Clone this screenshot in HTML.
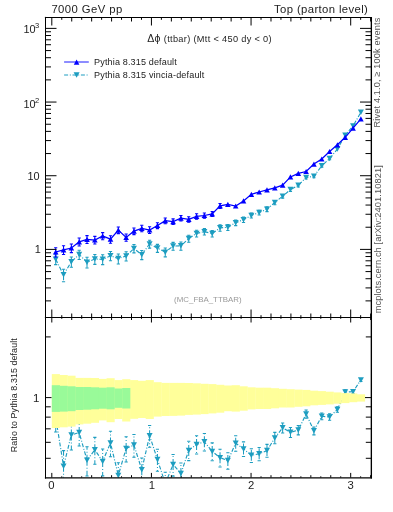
<!DOCTYPE html>
<html><head><meta charset="utf-8"><style>
html,body{margin:0;padding:0;background:#fff;}
body{width:393px;height:512px;position:relative;overflow:hidden;font-family:"Liberation Sans",sans-serif;}
</style></head><body>
<svg width="393" height="512" viewBox="0 0 393 512" style="position:absolute;left:0;top:0">
<defs><clipPath id="cm"><rect x="45.5" y="17.5" width="325.5" height="300"/></clipPath>
<clipPath id="cr"><rect x="45.5" y="317.5" width="325.5" height="160"/></clipPath></defs>
<g clip-path="url(#cm)">
<polyline points="55.71,259.31 63.54,274.87 71.36,261.63 79.19,254.59 87.01,262.18 94.84,259.08 102.66,259.31 110.49,255.79 118.31,258.53 126.14,255.96 133.96,248.46 141.79,254.68 149.61,243.92 157.44,248.12 165.26,252.13 173.09,246.08 180.91,245.84 188.74,238.59 196.56,233.50 204.39,231.65 212.21,233.56 220.04,227.86 227.86,227.32 235.69,222.66 243.51,219.65 251.34,215.39 259.16,212.54 266.99,209.17 274.81,202.53 282.64,196.24 290.46,189.58 298.29,185.28 306.11,177.49 313.93,176.23 321.76,165.83 329.58,158.59 337.41,149.11 345.23,135.22 353.06,125.94 360.88,112.33" fill="none" stroke="#1d9dc0" stroke-width="1.15" stroke-dasharray="4 1.7 1 1.7"/>
<path d="M55.71 259.31V254.77M55.71 259.31V264.60" stroke="#1d9dc0" stroke-width="1.05" fill="none" stroke-dasharray="5.5 2 1 2"/><path d="M54.11 254.77H57.31M54.11 264.60H57.31" stroke="#1d9dc0" stroke-width="1.05" fill="none"/>
<path d="M52.71 256.56L58.71 256.56L55.71 262.06Z" fill="#1d9dc0"/>
<path d="M63.54 274.87V269.17M63.54 274.87V281.80" stroke="#1d9dc0" stroke-width="1.05" fill="none" stroke-dasharray="5.5 2 1 2"/><path d="M61.94 269.17H65.14M61.94 281.80H65.14" stroke="#1d9dc0" stroke-width="1.05" fill="none"/>
<path d="M60.54 272.12L66.54 272.12L63.54 277.62Z" fill="#1d9dc0"/>
<path d="M71.36 261.63V256.92M71.36 261.63V267.15" stroke="#1d9dc0" stroke-width="1.05" fill="none" stroke-dasharray="5.5 2 1 2"/><path d="M69.76 256.92H72.96M69.76 267.15H72.96" stroke="#1d9dc0" stroke-width="1.05" fill="none"/>
<path d="M68.36 258.88L74.36 258.88L71.36 264.38Z" fill="#1d9dc0"/>
<path d="M79.19 254.59V250.33M79.19 254.59V259.51" stroke="#1d9dc0" stroke-width="1.05" fill="none" stroke-dasharray="5.5 2 1 2"/><path d="M77.59 250.33H80.79M77.59 259.51H80.79" stroke="#1d9dc0" stroke-width="1.05" fill="none"/>
<path d="M76.19 251.84L82.19 251.84L79.19 257.34Z" fill="#1d9dc0"/>
<path d="M87.01 262.18V257.29M87.01 262.18V267.94" stroke="#1d9dc0" stroke-width="1.05" fill="none" stroke-dasharray="5.5 2 1 2"/><path d="M85.41 257.29H88.61M85.41 267.94H88.61" stroke="#1d9dc0" stroke-width="1.05" fill="none"/>
<path d="M84.01 259.43L90.01 259.43L87.01 264.93Z" fill="#1d9dc0"/>
<path d="M94.84 259.08V254.53M94.84 259.08V264.38" stroke="#1d9dc0" stroke-width="1.05" fill="none" stroke-dasharray="5.5 2 1 2"/><path d="M93.24 254.53H96.44M93.24 264.38H96.44" stroke="#1d9dc0" stroke-width="1.05" fill="none"/>
<path d="M91.84 256.33L97.84 256.33L94.84 261.83Z" fill="#1d9dc0"/>
<path d="M102.66 259.31V254.78M102.66 259.31V264.60" stroke="#1d9dc0" stroke-width="1.05" fill="none" stroke-dasharray="5.5 2 1 2"/><path d="M101.06 254.78H104.26M101.06 264.60H104.26" stroke="#1d9dc0" stroke-width="1.05" fill="none"/>
<path d="M99.66 256.56L105.66 256.56L102.66 262.06Z" fill="#1d9dc0"/>
<path d="M110.49 255.79V251.47M110.49 255.79V260.78" stroke="#1d9dc0" stroke-width="1.05" fill="none" stroke-dasharray="5.5 2 1 2"/><path d="M108.89 251.47H112.09M108.89 260.78H112.09" stroke="#1d9dc0" stroke-width="1.05" fill="none"/>
<path d="M107.49 253.04L113.49 253.04L110.49 258.54Z" fill="#1d9dc0"/>
<path d="M118.31 258.53V253.93M118.31 258.53V263.90" stroke="#1d9dc0" stroke-width="1.05" fill="none" stroke-dasharray="5.5 2 1 2"/><path d="M116.71 253.93H119.91M116.71 263.90H119.91" stroke="#1d9dc0" stroke-width="1.05" fill="none"/>
<path d="M115.31 255.78L121.31 255.78L118.31 261.28Z" fill="#1d9dc0"/>
<path d="M126.14 255.96V251.69M126.14 255.96V260.90" stroke="#1d9dc0" stroke-width="1.05" fill="none" stroke-dasharray="5.5 2 1 2"/><path d="M124.54 251.69H127.74M124.54 260.90H127.74" stroke="#1d9dc0" stroke-width="1.05" fill="none"/>
<path d="M123.14 253.21L129.14 253.21L126.14 258.71Z" fill="#1d9dc0"/>
<path d="M133.96 248.46V244.56M133.96 248.46V252.89" stroke="#1d9dc0" stroke-width="1.05" fill="none" stroke-dasharray="5.5 2 1 2"/><path d="M132.36 244.56H135.56M132.36 252.89H135.56" stroke="#1d9dc0" stroke-width="1.05" fill="none"/>
<path d="M130.96 245.71L136.96 245.71L133.96 251.21Z" fill="#1d9dc0"/>
<path d="M141.79 254.68V250.40M141.79 254.68V259.63" stroke="#1d9dc0" stroke-width="1.05" fill="none" stroke-dasharray="5.5 2 1 2"/><path d="M140.19 250.40H143.39M140.19 259.63H143.39" stroke="#1d9dc0" stroke-width="1.05" fill="none"/>
<path d="M138.79 251.93L144.79 251.93L141.79 257.43Z" fill="#1d9dc0"/>
<path d="M149.61 243.92V240.21M149.61 243.92V248.13" stroke="#1d9dc0" stroke-width="1.05" fill="none" stroke-dasharray="5.5 2 1 2"/><path d="M148.01 240.21H151.21M148.01 248.13H151.21" stroke="#1d9dc0" stroke-width="1.05" fill="none"/>
<path d="M146.61 241.17L152.61 241.17L149.61 246.67Z" fill="#1d9dc0"/>
<path d="M157.44 248.12V244.36M157.44 248.12V252.38" stroke="#1d9dc0" stroke-width="1.05" fill="none" stroke-dasharray="5.5 2 1 2"/><path d="M155.84 244.36H159.04M155.84 252.38H159.04" stroke="#1d9dc0" stroke-width="1.05" fill="none"/>
<path d="M154.44 245.37L160.44 245.37L157.44 250.87Z" fill="#1d9dc0"/>
<path d="M165.26 252.13V248.00M165.26 252.13V256.86" stroke="#1d9dc0" stroke-width="1.05" fill="none" stroke-dasharray="5.5 2 1 2"/><path d="M163.66 248.00H166.86M163.66 256.86H166.86" stroke="#1d9dc0" stroke-width="1.05" fill="none"/>
<path d="M162.26 249.38L168.26 249.38L165.26 254.88Z" fill="#1d9dc0"/>
<path d="M173.09 246.08V242.37M173.09 246.08V250.29" stroke="#1d9dc0" stroke-width="1.05" fill="none" stroke-dasharray="5.5 2 1 2"/><path d="M171.49 242.37H174.69M171.49 250.29H174.69" stroke="#1d9dc0" stroke-width="1.05" fill="none"/>
<path d="M170.09 243.33L176.09 243.33L173.09 248.83Z" fill="#1d9dc0"/>
<path d="M180.91 245.84V241.96M180.91 245.84V250.24" stroke="#1d9dc0" stroke-width="1.05" fill="none" stroke-dasharray="5.5 2 1 2"/><path d="M179.31 241.96H182.51M179.31 250.24H182.51" stroke="#1d9dc0" stroke-width="1.05" fill="none"/>
<path d="M177.91 243.09L183.91 243.09L180.91 248.59Z" fill="#1d9dc0"/>
<path d="M188.74 238.59V235.25M188.74 238.59V242.33" stroke="#1d9dc0" stroke-width="1.05" fill="none" stroke-dasharray="5.5 2 1 2"/><path d="M187.14 235.25H190.34M187.14 242.33H190.34" stroke="#1d9dc0" stroke-width="1.05" fill="none"/>
<path d="M185.74 235.84L191.74 235.84L188.74 241.34Z" fill="#1d9dc0"/>
<path d="M196.56 233.50V230.32M196.56 233.50V237.04" stroke="#1d9dc0" stroke-width="1.05" fill="none" stroke-dasharray="5.5 2 1 2"/><path d="M194.96 230.32H198.16M194.96 237.04H198.16" stroke="#1d9dc0" stroke-width="1.05" fill="none"/>
<path d="M193.56 230.75L199.56 230.75L196.56 236.25Z" fill="#1d9dc0"/>
<path d="M204.39 231.65V228.61M204.39 231.65V235.01" stroke="#1d9dc0" stroke-width="1.05" fill="none" stroke-dasharray="5.5 2 1 2"/><path d="M202.79 228.61H205.99M202.79 235.01H205.99" stroke="#1d9dc0" stroke-width="1.05" fill="none"/>
<path d="M201.39 228.90L207.39 228.90L204.39 234.40Z" fill="#1d9dc0"/>
<path d="M212.21 233.56V230.45M212.21 233.56V237.00" stroke="#1d9dc0" stroke-width="1.05" fill="none" stroke-dasharray="5.5 2 1 2"/><path d="M210.61 230.45H213.81M210.61 237.00H213.81" stroke="#1d9dc0" stroke-width="1.05" fill="none"/>
<path d="M209.21 230.81L215.21 230.81L212.21 236.31Z" fill="#1d9dc0"/>
<path d="M220.04 227.86V224.79M220.04 227.86V231.26" stroke="#1d9dc0" stroke-width="1.05" fill="none" stroke-dasharray="5.5 2 1 2"/><path d="M218.44 224.79H221.64M218.44 231.26H221.64" stroke="#1d9dc0" stroke-width="1.05" fill="none"/>
<path d="M217.04 225.11L223.04 225.11L220.04 230.61Z" fill="#1d9dc0"/>
<path d="M227.86 227.32V224.43M227.86 227.32V230.50" stroke="#1d9dc0" stroke-width="1.05" fill="none" stroke-dasharray="5.5 2 1 2"/><path d="M226.26 224.43H229.46M226.26 230.50H229.46" stroke="#1d9dc0" stroke-width="1.05" fill="none"/>
<path d="M224.86 224.57L230.86 224.57L227.86 230.07Z" fill="#1d9dc0"/>
<path d="M235.69 222.66V219.96M235.69 222.66V225.61" stroke="#1d9dc0" stroke-width="1.05" fill="none" stroke-dasharray="5.5 2 1 2"/><path d="M234.09 219.96H237.29M234.09 225.61H237.29" stroke="#1d9dc0" stroke-width="1.05" fill="none"/>
<path d="M232.69 219.91L238.69 219.91L235.69 225.41Z" fill="#1d9dc0"/>
<path d="M243.51 219.65V217.07M243.51 219.65V222.45" stroke="#1d9dc0" stroke-width="1.05" fill="none" stroke-dasharray="5.5 2 1 2"/><path d="M241.91 217.07H245.11M241.91 222.45H245.11" stroke="#1d9dc0" stroke-width="1.05" fill="none"/>
<path d="M240.51 216.90L246.51 216.90L243.51 222.40Z" fill="#1d9dc0"/>
<path d="M251.34 215.39V212.96M251.34 215.39V218.01" stroke="#1d9dc0" stroke-width="1.05" fill="none" stroke-dasharray="5.5 2 1 2"/><path d="M249.74 212.96H252.94M249.74 218.01H252.94" stroke="#1d9dc0" stroke-width="1.05" fill="none"/>
<path d="M248.34 212.64L254.34 212.64L251.34 218.14Z" fill="#1d9dc0"/>
<path d="M259.16 212.54V210.21M259.16 212.54V215.04" stroke="#1d9dc0" stroke-width="1.05" fill="none" stroke-dasharray="5.5 2 1 2"/><path d="M257.56 210.21H260.76M257.56 215.04H260.76" stroke="#1d9dc0" stroke-width="1.05" fill="none"/>
<path d="M256.16 209.79L262.16 209.79L259.16 215.29Z" fill="#1d9dc0"/>
<path d="M266.99 209.17V206.88M266.99 209.17V211.63" stroke="#1d9dc0" stroke-width="1.05" fill="none" stroke-dasharray="5.5 2 1 2"/><path d="M265.39 206.88H268.59M265.39 211.63H268.59" stroke="#1d9dc0" stroke-width="1.05" fill="none"/>
<path d="M263.99 206.42L269.99 206.42L266.99 211.92Z" fill="#1d9dc0"/>
<path d="M274.81 202.53V200.51M274.81 202.53V204.68" stroke="#1d9dc0" stroke-width="1.05" fill="none" stroke-dasharray="5.5 2 1 2"/><path d="M273.21 200.51H276.41M273.21 204.68H276.41" stroke="#1d9dc0" stroke-width="1.05" fill="none"/>
<path d="M271.81 199.78L277.81 199.78L274.81 205.28Z" fill="#1d9dc0"/>
<path d="M282.64 196.24V194.46M282.64 196.24V198.12" stroke="#1d9dc0" stroke-width="1.05" fill="none" stroke-dasharray="5.5 2 1 2"/><path d="M281.04 194.46H284.24M281.04 198.12H284.24" stroke="#1d9dc0" stroke-width="1.05" fill="none"/>
<path d="M279.64 193.49L285.64 193.49L282.64 198.99Z" fill="#1d9dc0"/>
<path d="M290.46 189.58V187.80M290.46 189.58V191.47" stroke="#1d9dc0" stroke-width="1.05" fill="none" stroke-dasharray="5.5 2 1 2"/><path d="M288.86 187.80H292.06M288.86 191.47H292.06" stroke="#1d9dc0" stroke-width="1.05" fill="none"/>
<path d="M287.46 186.83L293.46 186.83L290.46 192.33Z" fill="#1d9dc0"/>
<path d="M298.29 185.28V183.62M298.29 185.28V187.03" stroke="#1d9dc0" stroke-width="1.05" fill="none" stroke-dasharray="5.5 2 1 2"/><path d="M296.69 183.62H299.89M296.69 187.03H299.89" stroke="#1d9dc0" stroke-width="1.05" fill="none"/>
<path d="M295.29 182.53L301.29 182.53L298.29 188.03Z" fill="#1d9dc0"/>
<path d="M306.11 177.49V176.04M306.11 177.49V179.01" stroke="#1d9dc0" stroke-width="1.05" fill="none" stroke-dasharray="5.5 2 1 2"/><path d="M304.51 176.04H307.71M304.51 179.01H307.71" stroke="#1d9dc0" stroke-width="1.05" fill="none"/>
<path d="M303.11 174.74L309.11 174.74L306.11 180.24Z" fill="#1d9dc0"/>
<path d="M313.93 176.23V174.81M313.93 176.23V177.72" stroke="#1d9dc0" stroke-width="1.05" fill="none" stroke-dasharray="5.5 2 1 2"/><path d="M312.33 174.81H315.53M312.33 177.72H315.53" stroke="#1d9dc0" stroke-width="1.05" fill="none"/>
<path d="M310.93 173.48L316.93 173.48L313.93 178.98Z" fill="#1d9dc0"/>
<path d="M321.76 165.83V164.59M321.76 165.83V167.12" stroke="#1d9dc0" stroke-width="1.05" fill="none" stroke-dasharray="5.5 2 1 2"/><path d="M320.16 164.59H323.36M320.16 167.12H323.36" stroke="#1d9dc0" stroke-width="1.05" fill="none"/>
<path d="M318.76 163.08L324.76 163.08L321.76 168.58Z" fill="#1d9dc0"/>
<path d="M329.58 158.59V157.44M329.58 158.59V159.78" stroke="#1d9dc0" stroke-width="1.05" fill="none" stroke-dasharray="5.5 2 1 2"/><path d="M327.98 157.44H331.18M327.98 159.78H331.18" stroke="#1d9dc0" stroke-width="1.05" fill="none"/>
<path d="M326.58 155.84L332.58 155.84L329.58 161.34Z" fill="#1d9dc0"/>
<path d="M334.41 146.36L340.41 146.36L337.41 151.86Z" fill="#1d9dc0"/>
<path d="M342.23 132.47L348.23 132.47L345.23 137.97Z" fill="#1d9dc0"/>
<path d="M350.06 123.19L356.06 123.19L353.06 128.69Z" fill="#1d9dc0"/>
<path d="M357.88 109.58L363.88 109.58L360.88 115.08Z" fill="#1d9dc0"/>
<polyline points="55.71,252.00 63.54,249.80 71.36,248.00 79.19,241.80 87.01,239.30 94.84,240.00 102.66,236.00 110.49,239.20 118.31,230.10 126.14,237.40 133.96,231.10 141.79,228.30 149.61,230.00 157.44,225.50 165.26,220.70 173.09,221.60 180.91,218.10 188.74,219.30 196.56,216.40 204.39,215.50 212.21,213.90 220.04,205.90 227.86,204.30 235.69,206.00 243.51,200.90 251.34,194.30 259.16,192.00 266.99,189.80 274.81,187.80 282.64,185.20 290.46,176.90 298.29,173.40 306.11,171.50 313.93,164.10 321.76,159.00 329.58,151.50 337.41,144.80 345.23,137.30 353.06,128.10 360.88,118.80" fill="none" stroke="#0000ff" stroke-width="1.25"/>
<path d="M55.71 252.00V247.72M55.71 252.00V256.94" stroke="#0000ff" stroke-width="1.05" fill="none"/><path d="M54.11 247.72H57.31M54.11 256.94H57.31" stroke="#0000ff" stroke-width="1.05" fill="none"/>
<path d="M52.91 254.60L58.51 254.60L55.71 249.40Z" fill="#0000ff"/>
<path d="M63.54 249.80V245.65M63.54 249.80V254.57" stroke="#0000ff" stroke-width="1.05" fill="none"/><path d="M61.94 245.65H65.14M61.94 254.57H65.14" stroke="#0000ff" stroke-width="1.05" fill="none"/>
<path d="M60.74 252.40L66.34 252.40L63.54 247.20Z" fill="#0000ff"/>
<path d="M71.36 248.00V243.95M71.36 248.00V252.63" stroke="#0000ff" stroke-width="1.05" fill="none"/><path d="M69.76 243.95H72.96M69.76 252.63H72.96" stroke="#0000ff" stroke-width="1.05" fill="none"/>
<path d="M68.56 250.60L74.16 250.60L71.36 245.40Z" fill="#0000ff"/>
<path d="M79.19 241.80V238.09M79.19 241.80V245.99" stroke="#0000ff" stroke-width="1.05" fill="none"/><path d="M77.59 238.09H80.79M77.59 245.99H80.79" stroke="#0000ff" stroke-width="1.05" fill="none"/>
<path d="M76.39 244.40L81.99 244.40L79.19 239.20Z" fill="#0000ff"/>
<path d="M87.01 239.30V235.63M87.01 239.30V243.44" stroke="#0000ff" stroke-width="1.05" fill="none"/><path d="M85.41 235.63H88.61M85.41 243.44H88.61" stroke="#0000ff" stroke-width="1.05" fill="none"/>
<path d="M84.21 241.90L89.81 241.90L87.01 236.70Z" fill="#0000ff"/>
<path d="M94.84 240.00V236.39M94.84 240.00V244.06" stroke="#0000ff" stroke-width="1.05" fill="none"/><path d="M93.24 236.39H96.44M93.24 244.06H96.44" stroke="#0000ff" stroke-width="1.05" fill="none"/>
<path d="M92.04 242.60L97.64 242.60L94.84 237.40Z" fill="#0000ff"/>
<path d="M102.66 236.00V232.62M102.66 236.00V239.77" stroke="#0000ff" stroke-width="1.05" fill="none"/><path d="M101.06 232.62H104.26M101.06 239.77H104.26" stroke="#0000ff" stroke-width="1.05" fill="none"/>
<path d="M99.86 238.60L105.46 238.60L102.66 233.40Z" fill="#0000ff"/>
<path d="M110.49 239.20V235.65M110.49 239.20V243.19" stroke="#0000ff" stroke-width="1.05" fill="none"/><path d="M108.89 235.65H112.09M108.89 243.19H112.09" stroke="#0000ff" stroke-width="1.05" fill="none"/>
<path d="M107.69 241.80L113.29 241.80L110.49 236.60Z" fill="#0000ff"/>
<path d="M118.31 230.10V226.93M118.31 230.10V233.62" stroke="#0000ff" stroke-width="1.05" fill="none"/><path d="M116.71 226.93H119.91M116.71 233.62H119.91" stroke="#0000ff" stroke-width="1.05" fill="none"/>
<path d="M115.51 232.70L121.11 232.70L118.31 227.50Z" fill="#0000ff"/>
<path d="M126.14 237.40V233.99M126.14 237.40V241.22" stroke="#0000ff" stroke-width="1.05" fill="none"/><path d="M124.54 233.99H127.74M124.54 241.22H127.74" stroke="#0000ff" stroke-width="1.05" fill="none"/>
<path d="M123.34 240.00L128.94 240.00L126.14 234.80Z" fill="#0000ff"/>
<path d="M133.96 231.10V227.94M133.96 231.10V234.61" stroke="#0000ff" stroke-width="1.05" fill="none"/><path d="M132.36 227.94H135.56M132.36 234.61H135.56" stroke="#0000ff" stroke-width="1.05" fill="none"/>
<path d="M131.16 233.70L136.76 233.70L133.96 228.50Z" fill="#0000ff"/>
<path d="M141.79 228.30V225.25M141.79 228.30V231.67" stroke="#0000ff" stroke-width="1.05" fill="none"/><path d="M140.19 225.25H143.39M140.19 231.67H143.39" stroke="#0000ff" stroke-width="1.05" fill="none"/>
<path d="M138.99 230.90L144.59 230.90L141.79 225.70Z" fill="#0000ff"/>
<path d="M149.61 230.00V226.83M149.61 230.00V233.52" stroke="#0000ff" stroke-width="1.05" fill="none"/><path d="M148.01 226.83H151.21M148.01 233.52H151.21" stroke="#0000ff" stroke-width="1.05" fill="none"/>
<path d="M146.81 232.60L152.41 232.60L149.61 227.40Z" fill="#0000ff"/>
<path d="M157.44 225.50V222.68M157.44 225.50V228.60" stroke="#0000ff" stroke-width="1.05" fill="none"/><path d="M155.84 222.68H159.04M155.84 228.60H159.04" stroke="#0000ff" stroke-width="1.05" fill="none"/>
<path d="M154.64 228.10L160.24 228.10L157.44 222.90Z" fill="#0000ff"/>
<path d="M165.26 220.70V217.98M165.26 220.70V223.67" stroke="#0000ff" stroke-width="1.05" fill="none"/><path d="M163.66 217.98H166.86M163.66 223.67H166.86" stroke="#0000ff" stroke-width="1.05" fill="none"/>
<path d="M162.46 223.30L168.06 223.30L165.26 218.10Z" fill="#0000ff"/>
<path d="M173.09 221.60V218.89M173.09 221.60V224.56" stroke="#0000ff" stroke-width="1.05" fill="none"/><path d="M171.49 218.89H174.69M171.49 224.56H174.69" stroke="#0000ff" stroke-width="1.05" fill="none"/>
<path d="M170.29 224.20L175.89 224.20L173.09 219.00Z" fill="#0000ff"/>
<path d="M180.91 218.10V215.41M180.91 218.10V221.04" stroke="#0000ff" stroke-width="1.05" fill="none"/><path d="M179.31 215.41H182.51M179.31 221.04H182.51" stroke="#0000ff" stroke-width="1.05" fill="none"/>
<path d="M178.11 220.70L183.71 220.70L180.91 215.50Z" fill="#0000ff"/>
<path d="M188.74 219.30V216.66M188.74 219.30V222.17" stroke="#0000ff" stroke-width="1.05" fill="none"/><path d="M187.14 216.66H190.34M187.14 222.17H190.34" stroke="#0000ff" stroke-width="1.05" fill="none"/>
<path d="M185.94 221.90L191.54 221.90L188.74 216.70Z" fill="#0000ff"/>
<path d="M196.56 216.40V213.81M196.56 216.40V219.22" stroke="#0000ff" stroke-width="1.05" fill="none"/><path d="M194.96 213.81H198.16M194.96 219.22H198.16" stroke="#0000ff" stroke-width="1.05" fill="none"/>
<path d="M193.76 219.00L199.36 219.00L196.56 213.80Z" fill="#0000ff"/>
<path d="M204.39 215.50V212.99M204.39 215.50V218.22" stroke="#0000ff" stroke-width="1.05" fill="none"/><path d="M202.79 212.99H205.99M202.79 218.22H205.99" stroke="#0000ff" stroke-width="1.05" fill="none"/>
<path d="M201.59 218.10L207.19 218.10L204.39 212.90Z" fill="#0000ff"/>
<path d="M212.21 213.90V211.47M212.21 213.90V216.53" stroke="#0000ff" stroke-width="1.05" fill="none"/><path d="M210.61 211.47H213.81M210.61 216.53H213.81" stroke="#0000ff" stroke-width="1.05" fill="none"/>
<path d="M209.41 216.50L215.01 216.50L212.21 211.30Z" fill="#0000ff"/>
<path d="M220.04 205.90V203.58M220.04 205.90V208.40" stroke="#0000ff" stroke-width="1.05" fill="none"/><path d="M218.44 203.58H221.64M218.44 208.40H221.64" stroke="#0000ff" stroke-width="1.05" fill="none"/>
<path d="M217.24 208.50L222.84 208.50L220.04 203.30Z" fill="#0000ff"/>
<path d="M225.06 206.90L230.66 206.90L227.86 201.70Z" fill="#0000ff"/>
<path d="M232.89 208.60L238.49 208.60L235.69 203.40Z" fill="#0000ff"/>
<path d="M240.71 203.50L246.31 203.50L243.51 198.30Z" fill="#0000ff"/>
<path d="M248.54 196.90L254.14 196.90L251.34 191.70Z" fill="#0000ff"/>
<path d="M256.36 194.60L261.96 194.60L259.16 189.40Z" fill="#0000ff"/>
<path d="M264.19 192.40L269.79 192.40L266.99 187.20Z" fill="#0000ff"/>
<path d="M272.01 190.40L277.61 190.40L274.81 185.20Z" fill="#0000ff"/>
<path d="M279.84 187.80L285.44 187.80L282.64 182.60Z" fill="#0000ff"/>
<path d="M287.66 179.50L293.26 179.50L290.46 174.30Z" fill="#0000ff"/>
<path d="M295.49 176.00L301.09 176.00L298.29 170.80Z" fill="#0000ff"/>
<path d="M303.31 174.10L308.91 174.10L306.11 168.90Z" fill="#0000ff"/>
<path d="M311.13 166.70L316.73 166.70L313.93 161.50Z" fill="#0000ff"/>
<path d="M318.96 161.60L324.56 161.60L321.76 156.40Z" fill="#0000ff"/>
<path d="M326.78 154.10L332.38 154.10L329.58 148.90Z" fill="#0000ff"/>
<path d="M334.61 147.40L340.21 147.40L337.41 142.20Z" fill="#0000ff"/>
<path d="M342.43 139.90L348.03 139.90L345.23 134.70Z" fill="#0000ff"/>
<path d="M350.26 130.70L355.86 130.70L353.06 125.50Z" fill="#0000ff"/>
<path d="M358.08 121.40L363.68 121.40L360.88 116.20Z" fill="#0000ff"/>
</g>
<g clip-path="url(#cr)">
<polyline points="55.71,417.60 63.54,466.20 71.36,434.90 79.19,432.60 87.01,460.20 94.84,449.80 102.66,461.40 110.49,443.00 118.31,475.40 126.14,448.40 133.96,445.10 141.79,469.80 149.61,435.70 157.44,459.50 165.26,483.60 173.09,464.60 180.91,473.50 188.74,450.40 196.56,444.40 204.39,441.80 212.21,451.40 220.04,457.70 227.86,460.60 235.69,443.20 243.51,448.90 251.34,455.30 259.16,453.80 266.99,450.60 274.81,437.90 282.64,427.80 290.46,432.30 298.29,430.10 306.11,414.00 313.93,430.80 321.76,416.30 329.58,417.00 337.41,409.40 345.23,391.90 353.06,391.70 360.88,379.90" fill="none" stroke="#1d9dc0" stroke-width="1.15" stroke-dasharray="4 1.7 1 1.7"/>
<path d="M55.71 417.60V405.18M55.71 417.60V432.08" stroke="#1d9dc0" stroke-width="1.05" fill="none" stroke-dasharray="5.5 2 1 2"/><path d="M54.11 405.18H57.31M54.11 432.08H57.31" stroke="#1d9dc0" stroke-width="1.05" fill="none"/>
<path d="M52.71 414.85L58.71 414.85L55.71 420.35Z" fill="#1d9dc0"/>
<path d="M63.54 466.20V450.61M63.54 466.20V485.17" stroke="#1d9dc0" stroke-width="1.05" fill="none" stroke-dasharray="5.5 2 1 2"/><path d="M61.94 450.61H65.14M61.94 485.17H65.14" stroke="#1d9dc0" stroke-width="1.05" fill="none"/>
<path d="M60.54 463.45L66.54 463.45L63.54 468.95Z" fill="#1d9dc0"/>
<path d="M71.36 434.90V422.02M71.36 434.90V450.00" stroke="#1d9dc0" stroke-width="1.05" fill="none" stroke-dasharray="5.5 2 1 2"/><path d="M69.76 422.02H72.96M69.76 450.00H72.96" stroke="#1d9dc0" stroke-width="1.05" fill="none"/>
<path d="M68.36 432.15L74.36 432.15L71.36 437.65Z" fill="#1d9dc0"/>
<path d="M79.19 432.60V420.93M79.19 432.60V446.06" stroke="#1d9dc0" stroke-width="1.05" fill="none" stroke-dasharray="5.5 2 1 2"/><path d="M77.59 420.93H80.79M77.59 446.06H80.79" stroke="#1d9dc0" stroke-width="1.05" fill="none"/>
<path d="M76.19 429.85L82.19 429.85L79.19 435.35Z" fill="#1d9dc0"/>
<path d="M87.01 460.20V446.83M87.01 460.20V475.98" stroke="#1d9dc0" stroke-width="1.05" fill="none" stroke-dasharray="5.5 2 1 2"/><path d="M85.41 446.83H88.61M85.41 475.98H88.61" stroke="#1d9dc0" stroke-width="1.05" fill="none"/>
<path d="M84.01 457.45L90.01 457.45L87.01 462.95Z" fill="#1d9dc0"/>
<path d="M94.84 449.80V437.36M94.84 449.80V464.31" stroke="#1d9dc0" stroke-width="1.05" fill="none" stroke-dasharray="5.5 2 1 2"/><path d="M93.24 437.36H96.44M93.24 464.31H96.44" stroke="#1d9dc0" stroke-width="1.05" fill="none"/>
<path d="M91.84 447.05L97.84 447.05L94.84 452.55Z" fill="#1d9dc0"/>
<path d="M102.66 461.40V449.00M102.66 461.40V475.85" stroke="#1d9dc0" stroke-width="1.05" fill="none" stroke-dasharray="5.5 2 1 2"/><path d="M101.06 449.00H104.26M101.06 475.85H104.26" stroke="#1d9dc0" stroke-width="1.05" fill="none"/>
<path d="M99.66 458.65L105.66 458.65L102.66 464.15Z" fill="#1d9dc0"/>
<path d="M110.49 443.00V431.18M110.49 443.00V456.67" stroke="#1d9dc0" stroke-width="1.05" fill="none" stroke-dasharray="5.5 2 1 2"/><path d="M108.89 431.18H112.09M108.89 456.67H112.09" stroke="#1d9dc0" stroke-width="1.05" fill="none"/>
<path d="M107.49 440.25L113.49 440.25L110.49 445.75Z" fill="#1d9dc0"/>
<path d="M118.31 475.40V462.82M118.31 475.40V490.10" stroke="#1d9dc0" stroke-width="1.05" fill="none" stroke-dasharray="5.5 2 1 2"/><path d="M116.71 462.82H119.91M116.71 490.10H119.91" stroke="#1d9dc0" stroke-width="1.05" fill="none"/>
<path d="M115.31 472.65L121.31 472.65L118.31 478.15Z" fill="#1d9dc0"/>
<path d="M126.14 448.40V436.70M126.14 448.40V461.90" stroke="#1d9dc0" stroke-width="1.05" fill="none" stroke-dasharray="5.5 2 1 2"/><path d="M124.54 436.70H127.74M124.54 461.90H127.74" stroke="#1d9dc0" stroke-width="1.05" fill="none"/>
<path d="M123.14 445.65L129.14 445.65L126.14 451.15Z" fill="#1d9dc0"/>
<path d="M133.96 445.10V434.44M133.96 445.10V457.24" stroke="#1d9dc0" stroke-width="1.05" fill="none" stroke-dasharray="5.5 2 1 2"/><path d="M132.36 434.44H135.56M132.36 457.24H135.56" stroke="#1d9dc0" stroke-width="1.05" fill="none"/>
<path d="M130.96 442.35L136.96 442.35L133.96 447.85Z" fill="#1d9dc0"/>
<path d="M141.79 469.80V458.08M141.79 469.80V483.34" stroke="#1d9dc0" stroke-width="1.05" fill="none" stroke-dasharray="5.5 2 1 2"/><path d="M140.19 458.08H143.39M140.19 483.34H143.39" stroke="#1d9dc0" stroke-width="1.05" fill="none"/>
<path d="M138.79 467.05L144.79 467.05L141.79 472.55Z" fill="#1d9dc0"/>
<path d="M149.61 435.70V425.53M149.61 435.70V447.21" stroke="#1d9dc0" stroke-width="1.05" fill="none" stroke-dasharray="5.5 2 1 2"/><path d="M148.01 425.53H151.21M148.01 447.21H151.21" stroke="#1d9dc0" stroke-width="1.05" fill="none"/>
<path d="M146.61 432.95L152.61 432.95L149.61 438.45Z" fill="#1d9dc0"/>
<path d="M157.44 459.50V449.20M157.44 459.50V471.17" stroke="#1d9dc0" stroke-width="1.05" fill="none" stroke-dasharray="5.5 2 1 2"/><path d="M155.84 449.20H159.04M155.84 471.17H159.04" stroke="#1d9dc0" stroke-width="1.05" fill="none"/>
<path d="M154.44 456.75L160.44 456.75L157.44 462.25Z" fill="#1d9dc0"/>
<path d="M165.26 483.60V472.31M165.26 483.60V496.56" stroke="#1d9dc0" stroke-width="1.05" fill="none" stroke-dasharray="5.5 2 1 2"/><path d="M163.66 472.31H166.86M163.66 496.56H166.86" stroke="#1d9dc0" stroke-width="1.05" fill="none"/>
<path d="M162.26 480.85L168.26 480.85L165.26 486.35Z" fill="#1d9dc0"/>
<path d="M173.09 464.60V454.43M173.09 464.60V476.11" stroke="#1d9dc0" stroke-width="1.05" fill="none" stroke-dasharray="5.5 2 1 2"/><path d="M171.49 454.43H174.69M171.49 476.11H174.69" stroke="#1d9dc0" stroke-width="1.05" fill="none"/>
<path d="M170.09 461.85L176.09 461.85L173.09 467.35Z" fill="#1d9dc0"/>
<path d="M180.91 473.50V462.91M180.91 473.50V485.55" stroke="#1d9dc0" stroke-width="1.05" fill="none" stroke-dasharray="5.5 2 1 2"/><path d="M179.31 462.91H182.51M179.31 485.55H182.51" stroke="#1d9dc0" stroke-width="1.05" fill="none"/>
<path d="M177.91 470.75L183.91 470.75L180.91 476.25Z" fill="#1d9dc0"/>
<path d="M188.74 450.40V441.24M188.74 450.40V460.63" stroke="#1d9dc0" stroke-width="1.05" fill="none" stroke-dasharray="5.5 2 1 2"/><path d="M187.14 441.24H190.34M187.14 460.63H190.34" stroke="#1d9dc0" stroke-width="1.05" fill="none"/>
<path d="M185.74 447.65L191.74 447.65L188.74 453.15Z" fill="#1d9dc0"/>
<path d="M196.56 444.40V435.69M196.56 444.40V454.07" stroke="#1d9dc0" stroke-width="1.05" fill="none" stroke-dasharray="5.5 2 1 2"/><path d="M194.96 435.69H198.16M194.96 454.07H198.16" stroke="#1d9dc0" stroke-width="1.05" fill="none"/>
<path d="M193.56 441.65L199.56 441.65L196.56 447.15Z" fill="#1d9dc0"/>
<path d="M204.39 441.80V433.48M204.39 441.80V451.00" stroke="#1d9dc0" stroke-width="1.05" fill="none" stroke-dasharray="5.5 2 1 2"/><path d="M202.79 433.48H205.99M202.79 451.00H205.99" stroke="#1d9dc0" stroke-width="1.05" fill="none"/>
<path d="M201.39 439.05L207.39 439.05L204.39 444.55Z" fill="#1d9dc0"/>
<path d="M212.21 451.40V442.89M212.21 451.40V460.82" stroke="#1d9dc0" stroke-width="1.05" fill="none" stroke-dasharray="5.5 2 1 2"/><path d="M210.61 442.89H213.81M210.61 460.82H213.81" stroke="#1d9dc0" stroke-width="1.05" fill="none"/>
<path d="M209.21 448.65L215.21 448.65L212.21 454.15Z" fill="#1d9dc0"/>
<path d="M220.04 457.70V449.30M220.04 457.70V466.99" stroke="#1d9dc0" stroke-width="1.05" fill="none" stroke-dasharray="5.5 2 1 2"/><path d="M218.44 449.30H221.64M218.44 466.99H221.64" stroke="#1d9dc0" stroke-width="1.05" fill="none"/>
<path d="M217.04 454.95L223.04 454.95L220.04 460.45Z" fill="#1d9dc0"/>
<path d="M227.86 460.60V452.68M227.86 460.60V469.31" stroke="#1d9dc0" stroke-width="1.05" fill="none" stroke-dasharray="5.5 2 1 2"/><path d="M226.26 452.68H229.46M226.26 469.31H229.46" stroke="#1d9dc0" stroke-width="1.05" fill="none"/>
<path d="M224.86 457.85L230.86 457.85L227.86 463.35Z" fill="#1d9dc0"/>
<path d="M235.69 443.20V435.81M235.69 443.20V451.27" stroke="#1d9dc0" stroke-width="1.05" fill="none" stroke-dasharray="5.5 2 1 2"/><path d="M234.09 435.81H237.29M234.09 451.27H237.29" stroke="#1d9dc0" stroke-width="1.05" fill="none"/>
<path d="M232.69 440.45L238.69 440.45L235.69 445.95Z" fill="#1d9dc0"/>
<path d="M243.51 448.90V441.85M243.51 448.90V456.57" stroke="#1d9dc0" stroke-width="1.05" fill="none" stroke-dasharray="5.5 2 1 2"/><path d="M241.91 441.85H245.11M241.91 456.57H245.11" stroke="#1d9dc0" stroke-width="1.05" fill="none"/>
<path d="M240.51 446.15L246.51 446.15L243.51 451.65Z" fill="#1d9dc0"/>
<path d="M251.34 455.30V448.65M251.34 455.30V462.50" stroke="#1d9dc0" stroke-width="1.05" fill="none" stroke-dasharray="5.5 2 1 2"/><path d="M249.74 448.65H252.94M249.74 462.50H252.94" stroke="#1d9dc0" stroke-width="1.05" fill="none"/>
<path d="M248.34 452.55L254.34 452.55L251.34 458.05Z" fill="#1d9dc0"/>
<path d="M259.16 453.80V447.44M259.16 453.80V460.66" stroke="#1d9dc0" stroke-width="1.05" fill="none" stroke-dasharray="5.5 2 1 2"/><path d="M257.56 447.44H260.76M257.56 460.66H260.76" stroke="#1d9dc0" stroke-width="1.05" fill="none"/>
<path d="M256.16 451.05L262.16 451.05L259.16 456.55Z" fill="#1d9dc0"/>
<path d="M266.99 450.60V444.35M266.99 450.60V457.33" stroke="#1d9dc0" stroke-width="1.05" fill="none" stroke-dasharray="5.5 2 1 2"/><path d="M265.39 444.35H268.59M265.39 457.33H268.59" stroke="#1d9dc0" stroke-width="1.05" fill="none"/>
<path d="M263.99 447.85L269.99 447.85L266.99 453.35Z" fill="#1d9dc0"/>
<path d="M274.81 437.90V432.38M274.81 437.90V443.79" stroke="#1d9dc0" stroke-width="1.05" fill="none" stroke-dasharray="5.5 2 1 2"/><path d="M273.21 432.38H276.41M273.21 443.79H276.41" stroke="#1d9dc0" stroke-width="1.05" fill="none"/>
<path d="M271.81 435.15L277.81 435.15L274.81 440.65Z" fill="#1d9dc0"/>
<path d="M282.64 427.80V422.93M282.64 427.80V432.95" stroke="#1d9dc0" stroke-width="1.05" fill="none" stroke-dasharray="5.5 2 1 2"/><path d="M281.04 422.93H284.24M281.04 432.95H284.24" stroke="#1d9dc0" stroke-width="1.05" fill="none"/>
<path d="M279.64 425.05L285.64 425.05L282.64 430.55Z" fill="#1d9dc0"/>
<path d="M290.46 432.30V427.43M290.46 432.30V437.46" stroke="#1d9dc0" stroke-width="1.05" fill="none" stroke-dasharray="5.5 2 1 2"/><path d="M288.86 427.43H292.06M288.86 437.46H292.06" stroke="#1d9dc0" stroke-width="1.05" fill="none"/>
<path d="M287.46 429.55L293.46 429.55L290.46 435.05Z" fill="#1d9dc0"/>
<path d="M298.29 430.10V425.56M298.29 430.10V434.89" stroke="#1d9dc0" stroke-width="1.05" fill="none" stroke-dasharray="5.5 2 1 2"/><path d="M296.69 425.56H299.89M296.69 434.89H299.89" stroke="#1d9dc0" stroke-width="1.05" fill="none"/>
<path d="M295.29 427.35L301.29 427.35L298.29 432.85Z" fill="#1d9dc0"/>
<path d="M306.11 414.00V410.03M306.11 414.00V418.15" stroke="#1d9dc0" stroke-width="1.05" fill="none" stroke-dasharray="5.5 2 1 2"/><path d="M304.51 410.03H307.71M304.51 418.15H307.71" stroke="#1d9dc0" stroke-width="1.05" fill="none"/>
<path d="M303.11 411.25L309.11 411.25L306.11 416.75Z" fill="#1d9dc0"/>
<path d="M313.93 430.80V426.91M313.93 430.80V434.87" stroke="#1d9dc0" stroke-width="1.05" fill="none" stroke-dasharray="5.5 2 1 2"/><path d="M312.33 426.91H315.53M312.33 434.87H315.53" stroke="#1d9dc0" stroke-width="1.05" fill="none"/>
<path d="M310.93 428.05L316.93 428.05L313.93 433.55Z" fill="#1d9dc0"/>
<path d="M321.76 416.30V412.91M321.76 416.30V419.83" stroke="#1d9dc0" stroke-width="1.05" fill="none" stroke-dasharray="5.5 2 1 2"/><path d="M320.16 412.91H323.36M320.16 419.83H323.36" stroke="#1d9dc0" stroke-width="1.05" fill="none"/>
<path d="M318.76 413.55L324.76 413.55L321.76 419.05Z" fill="#1d9dc0"/>
<path d="M329.58 417.00V413.86M329.58 417.00V420.26" stroke="#1d9dc0" stroke-width="1.05" fill="none" stroke-dasharray="5.5 2 1 2"/><path d="M327.98 413.86H331.18M327.98 420.26H331.18" stroke="#1d9dc0" stroke-width="1.05" fill="none"/>
<path d="M326.58 414.25L332.58 414.25L329.58 419.75Z" fill="#1d9dc0"/>
<path d="M337.41 409.40V406.72M337.41 409.40V412.17" stroke="#1d9dc0" stroke-width="1.05" fill="none" stroke-dasharray="5.5 2 1 2"/><path d="M335.81 406.72H339.01M335.81 412.17H339.01" stroke="#1d9dc0" stroke-width="1.05" fill="none"/>
<path d="M334.41 406.65L340.41 406.65L337.41 412.15Z" fill="#1d9dc0"/>
<path d="M345.23 391.90V389.75M345.23 391.90V394.11" stroke="#1d9dc0" stroke-width="1.05" fill="none" stroke-dasharray="5.5 2 1 2"/><path d="M343.63 389.75H346.83M343.63 394.11H346.83" stroke="#1d9dc0" stroke-width="1.05" fill="none"/>
<path d="M342.23 389.15L348.23 389.15L345.23 394.65Z" fill="#1d9dc0"/>
<path d="M353.06 391.70V389.80M353.06 391.70V393.64" stroke="#1d9dc0" stroke-width="1.05" fill="none" stroke-dasharray="5.5 2 1 2"/><path d="M351.46 389.80H354.66M351.46 393.64H354.66" stroke="#1d9dc0" stroke-width="1.05" fill="none"/>
<path d="M350.06 388.95L356.06 388.95L353.06 394.45Z" fill="#1d9dc0"/>
<path d="M360.88 379.90V378.43M360.88 379.90V381.40" stroke="#1d9dc0" stroke-width="1.05" fill="none" stroke-dasharray="5.5 2 1 2"/><path d="M359.28 378.43H362.48M359.28 381.40H362.48" stroke="#1d9dc0" stroke-width="1.05" fill="none"/>
<path d="M357.88 377.15L363.88 377.15L360.88 382.65Z" fill="#1d9dc0"/>
<rect x="51.80" y="374.10" width="8.12" height="53.90" fill="#ffff9a"/>
<rect x="59.62" y="375.00" width="8.12" height="52.30" fill="#ffff9a"/>
<rect x="67.45" y="375.70" width="8.12" height="50.90" fill="#ffff9a"/>
<rect x="75.27" y="377.90" width="8.12" height="46.50" fill="#ffff9a"/>
<rect x="83.10" y="377.90" width="8.12" height="45.80" fill="#ffff9a"/>
<rect x="90.92" y="378.00" width="8.12" height="44.80" fill="#ffff9a"/>
<rect x="98.75" y="378.90" width="8.12" height="41.50" fill="#ffff9a"/>
<rect x="106.57" y="378.20" width="8.12" height="44.00" fill="#ffff9a"/>
<rect x="114.40" y="380.10" width="8.12" height="38.90" fill="#ffff9a"/>
<rect x="122.22" y="379.20" width="8.12" height="42.30" fill="#ffff9a"/>
<rect x="130.05" y="380.10" width="8.12" height="38.70" fill="#ffff9a"/>
<rect x="137.87" y="380.80" width="8.12" height="37.20" fill="#ffff9a"/>
<rect x="145.70" y="380.10" width="8.12" height="38.90" fill="#ffff9a"/>
<rect x="153.52" y="382.20" width="8.12" height="34.40" fill="#ffff9a"/>
<rect x="161.35" y="382.90" width="8.12" height="33.10" fill="#ffff9a"/>
<rect x="169.17" y="382.90" width="8.12" height="33.00" fill="#ffff9a"/>
<rect x="177.00" y="382.90" width="8.12" height="32.70" fill="#ffff9a"/>
<rect x="184.82" y="383.00" width="8.12" height="31.90" fill="#ffff9a"/>
<rect x="192.65" y="383.30" width="8.12" height="31.30" fill="#ffff9a"/>
<rect x="200.47" y="383.80" width="8.12" height="30.30" fill="#ffff9a"/>
<rect x="208.30" y="384.10" width="8.12" height="29.30" fill="#ffff9a"/>
<rect x="216.12" y="384.80" width="8.12" height="27.90" fill="#ffff9a"/>
<rect x="223.95" y="385.50" width="8.12" height="25.70" fill="#ffff9a"/>
<rect x="231.77" y="385.20" width="8.12" height="26.40" fill="#ffff9a"/>
<rect x="239.60" y="386.30" width="8.12" height="24.40" fill="#ffff9a"/>
<rect x="247.42" y="387.30" width="8.12" height="22.10" fill="#ffff9a"/>
<rect x="255.25" y="387.70" width="8.12" height="21.30" fill="#ffff9a"/>
<rect x="263.07" y="387.70" width="8.12" height="21.30" fill="#ffff9a"/>
<rect x="270.90" y="388.20" width="8.12" height="20.10" fill="#ffff9a"/>
<rect x="278.72" y="388.80" width="8.12" height="18.70" fill="#ffff9a"/>
<rect x="286.55" y="389.20" width="8.12" height="18.30" fill="#ffff9a"/>
<rect x="294.37" y="389.60" width="8.12" height="17.20" fill="#ffff9a"/>
<rect x="302.20" y="389.90" width="8.12" height="16.40" fill="#ffff9a"/>
<rect x="310.02" y="390.70" width="8.12" height="14.60" fill="#ffff9a"/>
<rect x="317.85" y="391.10" width="8.12" height="13.80" fill="#ffff9a"/>
<rect x="325.67" y="391.70" width="8.12" height="12.70" fill="#ffff9a"/>
<rect x="333.50" y="392.40" width="8.12" height="11.30" fill="#ffff9a"/>
<rect x="341.32" y="393.10" width="8.12" height="10.00" fill="#ffff9a"/>
<rect x="349.15" y="393.40" width="8.12" height="8.80" fill="#ffff9a"/>
<rect x="356.97" y="394.30" width="8.12" height="7.30" fill="#ffff9a"/>
<rect x="51.80" y="385.20" width="8.12" height="26.70" fill="#99fa99"/>
<rect x="59.62" y="385.80" width="8.12" height="25.80" fill="#99fa99"/>
<rect x="67.45" y="386.30" width="8.12" height="24.90" fill="#99fa99"/>
<rect x="75.27" y="387.00" width="8.12" height="23.00" fill="#99fa99"/>
<rect x="83.10" y="387.00" width="8.12" height="22.70" fill="#99fa99"/>
<rect x="90.92" y="387.30" width="8.12" height="22.00" fill="#99fa99"/>
<rect x="98.75" y="387.70" width="8.12" height="21.00" fill="#99fa99"/>
<rect x="106.57" y="387.30" width="8.12" height="22.00" fill="#99fa99"/>
<rect x="114.40" y="388.50" width="8.12" height="19.30" fill="#99fa99"/>
<rect x="122.22" y="388.00" width="8.12" height="20.50" fill="#99fa99"/>
</g>
<path d="M51.80 17.5v8M51.80 317.5v-8M51.80 317.5v5M51.80 477.5v-4.6M61.76 17.5v2.3M61.76 317.5v-2.3M61.76 317.5v1.3M61.76 477.5v-1.2M71.73 17.5v4M71.73 317.5v-4M71.73 317.5v2.5M71.73 477.5v-2.3M81.69 17.5v2.3M81.69 317.5v-2.3M81.69 317.5v1.3M81.69 477.5v-1.2M91.65 17.5v4M91.65 317.5v-4M91.65 317.5v2.5M91.65 477.5v-2.3M101.61 17.5v2.3M101.61 317.5v-2.3M101.61 317.5v1.3M101.61 477.5v-1.2M111.58 17.5v4M111.58 317.5v-4M111.58 317.5v2.5M111.58 477.5v-2.3M121.54 17.5v2.3M121.54 317.5v-2.3M121.54 317.5v1.3M121.54 477.5v-1.2M131.50 17.5v4M131.50 317.5v-4M131.50 317.5v2.5M131.50 477.5v-2.3M141.47 17.5v2.3M141.47 317.5v-2.3M141.47 317.5v1.3M141.47 477.5v-1.2M151.43 17.5v8M151.43 317.5v-8M151.43 317.5v5M151.43 477.5v-4.6M161.39 17.5v2.3M161.39 317.5v-2.3M161.39 317.5v1.3M161.39 477.5v-1.2M171.36 17.5v4M171.36 317.5v-4M171.36 317.5v2.5M171.36 477.5v-2.3M181.32 17.5v2.3M181.32 317.5v-2.3M181.32 317.5v1.3M181.32 477.5v-1.2M191.28 17.5v4M191.28 317.5v-4M191.28 317.5v2.5M191.28 477.5v-2.3M201.25 17.5v2.3M201.25 317.5v-2.3M201.25 317.5v1.3M201.25 477.5v-1.2M211.21 17.5v4M211.21 317.5v-4M211.21 317.5v2.5M211.21 477.5v-2.3M221.17 17.5v2.3M221.17 317.5v-2.3M221.17 317.5v1.3M221.17 477.5v-1.2M231.13 17.5v4M231.13 317.5v-4M231.13 317.5v2.5M231.13 477.5v-2.3M241.10 17.5v2.3M241.10 317.5v-2.3M241.10 317.5v1.3M241.10 477.5v-1.2M251.06 17.5v8M251.06 317.5v-8M251.06 317.5v5M251.06 477.5v-4.6M261.02 17.5v2.3M261.02 317.5v-2.3M261.02 317.5v1.3M261.02 477.5v-1.2M270.99 17.5v4M270.99 317.5v-4M270.99 317.5v2.5M270.99 477.5v-2.3M280.95 17.5v2.3M280.95 317.5v-2.3M280.95 317.5v1.3M280.95 477.5v-1.2M290.91 17.5v4M290.91 317.5v-4M290.91 317.5v2.5M290.91 477.5v-2.3M300.88 17.5v2.3M300.88 317.5v-2.3M300.88 317.5v1.3M300.88 477.5v-1.2M310.84 17.5v4M310.84 317.5v-4M310.84 317.5v2.5M310.84 477.5v-2.3M320.80 17.5v2.3M320.80 317.5v-2.3M320.80 317.5v1.3M320.80 477.5v-1.2M330.76 17.5v4M330.76 317.5v-4M330.76 317.5v2.5M330.76 477.5v-2.3M340.73 17.5v2.3M340.73 317.5v-2.3M340.73 317.5v1.3M340.73 477.5v-1.2M350.69 17.5v8M350.69 317.5v-8M350.69 317.5v5M350.69 477.5v-4.6M360.65 17.5v2.3M360.65 317.5v-2.3M360.65 317.5v1.3M360.65 477.5v-1.2M370.62 17.5v4M370.62 317.5v-4M370.62 317.5v2.5M370.62 477.5v-2.3M45.5 300.89h5.5M371.0 300.89h-5.5M45.5 287.92h5.5M371.0 287.92h-5.5M45.5 278.72h5.5M371.0 278.72h-5.5M45.5 271.58h5.5M371.0 271.58h-5.5M45.5 265.74h5.5M371.0 265.74h-5.5M45.5 260.81h5.5M371.0 260.81h-5.5M45.5 256.54h5.5M371.0 256.54h-5.5M45.5 252.77h5.5M371.0 252.77h-5.5M45.5 249.40h11M371.0 249.40h-11M45.5 227.22h5.5M371.0 227.22h-5.5M45.5 214.25h5.5M371.0 214.25h-5.5M45.5 205.05h5.5M371.0 205.05h-5.5M45.5 197.91h5.5M371.0 197.91h-5.5M45.5 192.07h5.5M371.0 192.07h-5.5M45.5 187.14h5.5M371.0 187.14h-5.5M45.5 182.87h5.5M371.0 182.87h-5.5M45.5 179.10h5.5M371.0 179.10h-5.5M45.5 175.73h11M371.0 175.73h-11M45.5 153.55h5.5M371.0 153.55h-5.5M45.5 140.58h5.5M371.0 140.58h-5.5M45.5 131.38h5.5M371.0 131.38h-5.5M45.5 124.24h5.5M371.0 124.24h-5.5M45.5 118.40h5.5M371.0 118.40h-5.5M45.5 113.47h5.5M371.0 113.47h-5.5M45.5 109.20h5.5M371.0 109.20h-5.5M45.5 105.43h5.5M371.0 105.43h-5.5M45.5 102.06h11M371.0 102.06h-11M45.5 79.88h5.5M371.0 79.88h-5.5M45.5 66.91h5.5M371.0 66.91h-5.5M45.5 57.71h5.5M371.0 57.71h-5.5M45.5 50.57h5.5M371.0 50.57h-5.5M45.5 44.73h5.5M371.0 44.73h-5.5M45.5 39.80h5.5M371.0 39.80h-5.5M45.5 35.53h5.5M371.0 35.53h-5.5M45.5 31.76h5.5M371.0 31.76h-5.5M45.5 28.39h11M371.0 28.39h-11M45.5 336.91h5.2M371.0 336.91h-5.2M45.5 397.60h6M371.0 397.60h-6M45.5 406.82h5.2M371.0 406.82h-5.2M45.5 417.14h5.2M371.0 417.14h-5.2M45.5 428.83h5.2M371.0 428.83h-5.2M45.5 442.32h5.2M371.0 442.32h-5.2M45.5 458.29h5.2M371.0 458.29h-5.2" stroke="#000" stroke-width="1" fill="none"/>
<path d="M45.5 16.9V478.6" stroke="#000" stroke-width="1.0" fill="none"/>
<path d="M44.9 17.5H371.9M44.9 317.5H371.9" stroke="#000" stroke-width="1.2" fill="none"/>
<path d="M371.35 16.9V478.6" stroke="#000" stroke-width="1.35" fill="none"/>
<path d="M44.9 477.9H372" stroke="#000" stroke-width="1.4" fill="none"/>
<path d="M64.1 62H88.8" stroke="#0000ff" stroke-width="0.9"/>
<path d="M73.80 64.70L79.40 64.70L76.60 59.50Z" fill="#0000ff"/>
<path d="M64.1 75.0H88.8" stroke="#1d9dc0" stroke-width="1.0" stroke-dasharray="4 1.7 1 1.7"/>
<path d="M73.60 72.35L79.60 72.35L76.60 77.85Z" fill="#1d9dc0"/>
</svg>
<svg width="393" height="512" viewBox="0 0 393 512" style="position:absolute;left:0;top:0;will-change:transform">
<g font-family="Liberation Sans">
<text x="51.4" y="13.1" font-size="11.3" letter-spacing="0.43" fill="#222">7000 GeV pp</text>
<text x="274.1" y="13.2" font-size="11.3" letter-spacing="0.38" fill="#222">Top (parton level)</text>
<text x="147.2" y="42.0" font-size="9.2" letter-spacing="0.33" fill="#222"><tspan font-size="10.6">&#916;&#981;</tspan> (ttbar) (Mtt &lt; 450 dy &lt; 0)</text>
<text x="94.1" y="64.7" font-size="9.05" letter-spacing="0.14" fill="#222">Pythia 8.315 default</text>
<text x="94.0" y="78.0" font-size="9.05" letter-spacing="0.16" fill="#222">Pythia 8.315 vincia-default</text>
<text x="174.1" y="302.4" font-size="7.9" fill="#999">(MC_FBA_TTBAR)</text>
<text transform="translate(380.0,127.4) rotate(-90)" font-size="9.1" letter-spacing="0.18" fill="#555">Rivet 4.1.0, &#8805; 100k events</text>
<text transform="translate(381.2,313.3) rotate(-90)" font-size="9.3" letter-spacing="0.07" fill="#555">mcplots.cern.ch [arXiv:2401.10821]</text>
<text transform="translate(17.0,452.2) rotate(-90)" font-size="8.9" letter-spacing="0.085" fill="#222">Ratio to Pythia 8.315 default</text>
<text x="23.5" y="32.7" font-size="10.9" fill="#222">10</text>
<text x="35.0" y="28.0" font-size="7.5" fill="#222">3</text>
<text x="23.5" y="107.7" font-size="10.9" fill="#222">10</text>
<text x="35.0" y="103.0" font-size="7.5" fill="#222">2</text>
<text x="27.5" y="179.5" font-size="10.9" fill="#222">10</text>
<text x="34.8" y="253.3" font-size="10.9" fill="#222">1</text>
<text x="33.0" y="402.1" font-size="11.5" fill="#222">1</text>
<text x="51.30" y="489.0" font-size="11.3" text-anchor="middle" fill="#222">0</text>
<text x="151.93" y="489.0" font-size="11.3" text-anchor="middle" fill="#222">1</text>
<text x="251.06" y="489.0" font-size="11.3" text-anchor="middle" fill="#222">2</text>
<text x="350.69" y="489.0" font-size="11.3" text-anchor="middle" fill="#222">3</text>
</g>
</svg>
</body></html>
